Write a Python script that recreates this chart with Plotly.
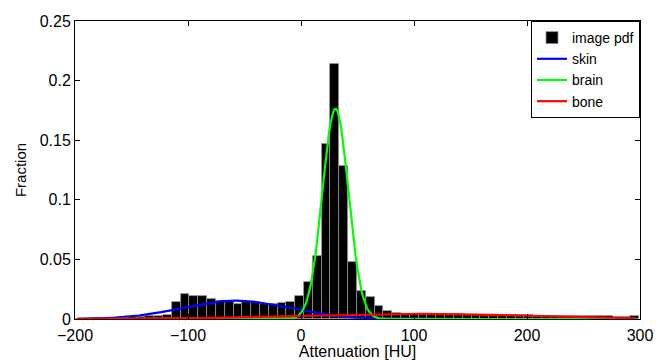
import numpy as np
import plotly.graph_objects as go

# histogram (image pdf): bin centers and fractions
bin_width = 7.8
bin_centers = [30 + bin_width * k for k in range(-29, 35)]
hist_values = [
    0.0003, 0.0004, 0.0005, 0.0006, 0.0008, 0.0010, 0.0015,          # k=-29..-23
    0.0018, 0.0022, 0.0026, 0.0030,                                  # k=-22..-19
    0.0142, 0.0209, 0.0190, 0.0190, 0.0167, 0.0150, 0.0153,          # k=-18..-12
    0.0125, 0.0142, 0.0142, 0.0125, 0.0125, 0.0134, 0.0145, 0.0190,  # k=-11..-4
    0.0313, 0.0526, 0.1465, 0.2143, 0.1280, 0.0476, 0.0238,          # k=-3..3
    0.0182, 0.0109, 0.0070, 0.0050, 0.0042, 0.0040, 0.0040,          # k=4..10
    0.0040, 0.0039, 0.0039, 0.0038, 0.0037, 0.0036, 0.0035,          # k=11..17
    0.0034, 0.0033, 0.0032, 0.0031, 0.0030, 0.0029, 0.0028,          # k=18..24
    0.0027, 0.0026, 0.0025, 0.0024, 0.0023, 0.0022, 0.0022,          # k=25..31
    0.0021, 0.0020, 0.0028,                                          # k=32..34
]

# fitted tissue components (mean, sigma, peak height)
x_curve = np.linspace(-198, 296, 400)
skin_params = (-58, 47, 0.0154)
brain_params = (30.5, 11.5, 0.1765)
bone_params = (100, 100, 0.0043)


def comp(p):
    m, s, a = p
    return a * np.exp(-0.5 * ((x_curve - m) / s) ** 2)


fig = go.Figure()
fig.add_trace(go.Bar(x=bin_centers, y=hist_values, width=bin_width, name="image pdf",
                     marker=dict(color="black", line=dict(color="rgb(150,150,150)", width=0.8))))
fig.add_trace(go.Scatter(x=x_curve, y=comp(skin_params), mode="lines", name="skin",
                         line=dict(color="#0000ff", width=2.2)))
fig.add_trace(go.Scatter(x=x_curve, y=comp(brain_params), mode="lines", name="brain",
                         line=dict(color="#00ff00", width=2.2)))
fig.add_trace(go.Scatter(x=x_curve, y=comp(bone_params), mode="lines", name="bone",
                         line=dict(color="#ff0000", width=2.2)))

axis_common = dict(showgrid=False, zeroline=False, showline=True, linecolor="black", linewidth=1,
                   mirror="allticks", ticks="inside", ticklen=5, tickcolor="black",
                   automargin=False, tickfont=dict(size=16, color="black"))

fig.update_layout(
    width=667, height=360,
    margin=dict(l=75, r=27, t=21, b=41),
    paper_bgcolor="white", plot_bgcolor="white",
    font=dict(family="Liberation Sans, Arial, sans-serif", size=16, color="black"),
    bargap=0,
    showlegend=True,
    legend=dict(x=1, y=1, xanchor="right", yanchor="top", bgcolor="white",
                bordercolor="black", borderwidth=1, font=dict(size=14),
                tracegroupgap=0, itemwidth=30),
    xaxis=dict(range=[-200, 300], tickvals=[-200, -100, 0, 100, 200, 300],
               ticklabelstandoff=2,
               title=dict(text="Attenuation [HU]", standoff=0, font=dict(size=16)), **axis_common),
    yaxis=dict(range=[0, 0.25], tickvals=[0, 0.05, 0.1, 0.15, 0.2, 0.25],
               ticktext=["0", "0.05", "0.1", "0.15", "0.2", "0.25"],
               title=dict(text="Fraction", standoff=9, font=dict(size=15)), **axis_common),
)

fig.write_html("out.html", config={"displayModeBar": False},
               post_script="document.body.style.margin='0';")
